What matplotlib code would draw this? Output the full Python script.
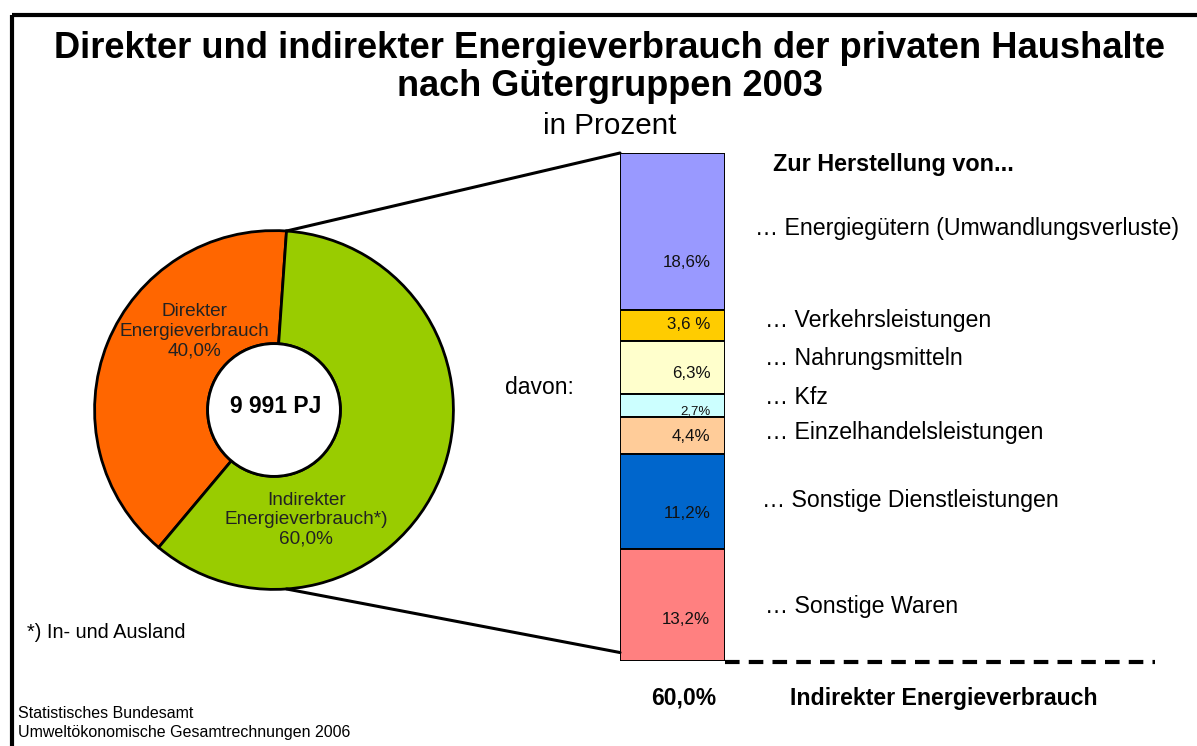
import numpy as np
import matplotlib
matplotlib.use("Agg")
import matplotlib.pyplot as plt
from matplotlib.patches import ConnectionPatch

plt.rcParams['font.family'] = ['Liberation Sans', 'DejaVu Sans']

# ---- data ----
pie_labels = ["Direkter\nEnergieverbrauch", "Indirekter\nEnergieverbrauch*)"]
pie_values = [40.0, 60.0]
pie_value_text = ["40,0%", "60,0%"]
total_text = "9 991 PJ"

categories = ["Energiegütern (Umwandlungsverluste)", "Verkehrsleistungen",
              "Nahrungsmitteln", "Kfz", "Einzelhandelsleistungen",
              "Sonstige Dienstleistungen", "Sonstige Waren"]
values = [18.6, 3.6, 6.3, 2.7, 4.4, 11.2, 13.2]
value_labels = ["18,6%", "3,6 %", "6,3%", "2,7%", "4,4%", "11,2%", "13,2%"]

# ---- styles ----
pie_colors = ["#FF6600", "#99CC00"]
bar_colors = ["#9999FF", "#FFCC00", "#FFFFCC", "#CCFFFF", "#FFCC99", "#0066CC", "#FF8080"]
label_dy_px = [48, 16, 21, 6, 18, 36, 41]        # value label height above segment bottom
label_fs = [12.2, 12.2, 12.2, 9.5, 12.2, 12.2, 12.2]
cat_y_px = [229, 320, 358, 397, 432, 501, 606]
cat_x_px = [755, 765, 765, 765, 765, 762, 765]

W, H = 1197, 746
fig = plt.figure(figsize=(W / 100, H / 100), dpi=100)

def fbox(x0, y0, x1, y1):
    return [x0 / W, 1 - y1 / H, (x1 - x0) / W, (y1 - y0) / H]

# overlay axes in pixel coordinates
ov = fig.add_axes([0, 0, 1, 1], zorder=5)
ov.set_xlim(0, W)
ov.set_ylim(H, 0)
ov.axis('off')

# ---- donut ----
cx, cy, R = 274, 410, 183
pax = fig.add_axes(fbox(cx - R, cy - R, cx + R, cy + R))
wedges, _ = pax.pie(pie_values, colors=pie_colors, startangle=86, counterclock=True,
                    radius=1.0,
                    wedgeprops=dict(width=0.63, edgecolor='black', linewidth=2))
pax.add_patch(plt.Circle((0, 0), 0.37, facecolor='white', edgecolor='black', lw=2, zorder=3))
pax.set_xlim(-1.02, 1.02)
pax.set_ylim(-1.02, 1.02)
pax.set_aspect('equal')
pax.axis('off')
pax.text(-0.443, 0.437, pie_labels[0] + "\n" + pie_value_text[0], ha='center', va='center',
         fontsize=13.7, linespacing=1.2, color='#222222')
pax.text(0.18, -0.612, pie_labels[1] + "\n" + pie_value_text[1], ha='center', va='center',
         fontsize=13.7, linespacing=1.2, color='#222222')
pax.text(0.01, 0.02, total_text, ha='center', va='center', fontsize=16.5,
         fontweight='bold', zorder=4)

# ---- stacked bar ----
bx0, bx1, by0, by1 = 620, 725, 153, 661
bax = fig.add_axes(fbox(bx0, by0, bx1, by1))
total = sum(values)
bax.set_xlim(-0.5, 0.5)
bax.set_ylim(0, total)
bax.axis('off')
px_per_unit = (by1 - by0) / total
tops = total - np.concatenate([[0], np.cumsum(values)[:-1]])
for i, (v, t) in enumerate(zip(values, tops)):
    bottom = t - v
    bax.bar(0, v, width=1.0, bottom=bottom, color=bar_colors[i], edgecolor='black',
            linewidth=1.4, zorder=2 + 2 * i)
    bax.text(0.36, bottom + label_dy_px[i] / px_per_unit, value_labels[i], ha='right',
             va='center', fontsize=label_fs[i], color='#111111', zorder=3 + 2 * i)

# connecting lines from donut to bar
ang_top, ang_bot = np.deg2rad(86), np.deg2rad(-86)
for ang, yb in [(ang_top, total), (ang_bot, 1.0)]:
    con = ConnectionPatch(xyA=(np.cos(ang), np.sin(ang)), coordsA=pax.transData,
                          xyB=(-0.5, yb), coordsB=bax.transData,
                          color='black', lw=2.2)
    fig.add_artist(con)

# dashed line at bar bottom
ov.plot([bx1, 1155], [by1 + 1, by1 + 1], color='black', lw=3, ls=(0, (3.5, 2.2)))

# category labels
for c, x, y in zip(categories, cat_x_px, cat_y_px):
    ov.text(x, y, "\u2026 " + c, ha='left', va='center', fontsize=16.7)

# titles & texts
ov.text(W / 2 + 11, 48, "Direkter und indirekter Energieverbrauch der privaten Haushalte",
        ha='center', va='center', fontsize=26.2, fontweight='bold')
ov.text(W / 2 + 11, 86, "nach Gütergruppen 2003", ha='center', va='center',
        fontsize=26.0, fontweight='bold')
ov.text(W / 2 + 11, 126, "in Prozent", ha='center', va='center', fontsize=21.3)
ov.text(773, 165, "Zur Herstellung von...", ha='left', va='center', fontsize=16.8,
        fontweight='bold')
ov.text(505, 388, "davon:", ha='left', va='center', fontsize=16.5)
ov.text(27, 633, "*) In- und Ausland", ha='left', va='center', fontsize=14.4)
ov.text(684, 698, "60,0%", ha='center', va='center', fontsize=16.5, fontweight='bold')
ov.text(790, 698, "Indirekter Energieverbrauch", ha='left', va='center', fontsize=16.7,
        fontweight='bold')
ov.text(18, 713, "Statistisches Bundesamt", ha='left', va='center', fontsize=11.5)
ov.text(18, 732, "Umweltökonomische Gesamtrechnungen 2006", ha='left', va='center', fontsize=11.5)

# frame (top and left)
ov.plot([12, W], [15, 15], color='black', lw=3, solid_capstyle='butt')
ov.plot([12, 12], [15, H], color='black', lw=3, solid_capstyle='butt')

fig.savefig("out.png", dpi=100)
